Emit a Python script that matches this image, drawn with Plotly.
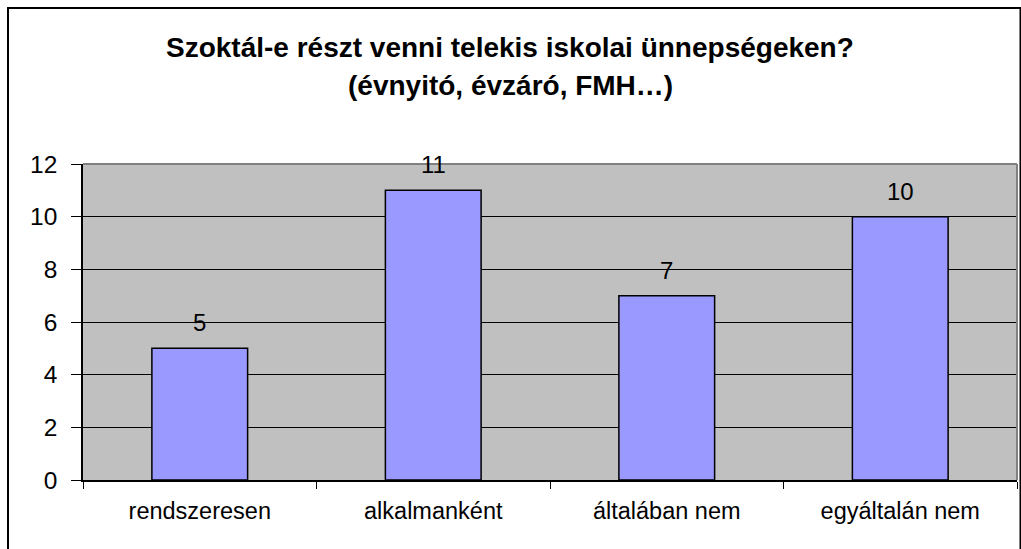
import plotly.graph_objects as go

categories = ["rendszeresen", "alkalmanként", "általában nem", "egyáltalán nem"]
values = [5, 11, 7, 10]
y_ticks = [0, 2, 4, 6, 8, 10, 12]
title_lines = ["Szoktál-e részt venni telekis iskolai ünnepségeken?", "(évnyitó, évzáró, FMH…)"]

FONT = "Liberation Sans, Arial, sans-serif"
W, H = 1021, 549
ML, MR, MT, MB = 83, 4, 164, 69

fig = go.Figure()
fig.add_trace(go.Bar(
    x=categories, y=values,
    marker=dict(color="#9999FF", line=dict(color="#000000", width=1.5)),
    showlegend=False, hoverinfo="skip",
))

for c, v in zip(categories, values):
    fig.add_annotation(x=c, y=v, text=str(v), showarrow=False,
                       yanchor="bottom", yshift=10,
                       font=dict(family=FONT, size=24, color="#000000"))

px_w, px_h = W - ML - MR, H - MT - MB
def px_x(x):
    return (x - ML) / px_w
def px_y(y):
    return (H - MB - y) / px_h

# title lines
for line, yc in zip(title_lines, [47, 85]):
    fig.add_annotation(xref="paper", yref="paper", x=px_x(510), y=px_y(yc),
                       xanchor="center", yanchor="middle", showarrow=False,
                       text="<b>" + line + "</b>",
                       font=dict(family=FONT, size=28, color="#000000"))

fig.update_layout(
    width=W, height=H,
    margin=dict(l=ML, r=MR, t=MT, b=MB),
    paper_bgcolor="#FFFFFF", plot_bgcolor="#C0C0C0",
    bargap=0.59,
    font=dict(family=FONT, size=24, color="#000000"),
    xaxis=dict(type="category", showline=True, linecolor="#000000", linewidth=1.5,
               ticks="outside", tickson="boundaries", ticklen=7, tickcolor="#000000",
               tickwidth=1, showgrid=False, ticklabelstandoff=9,
               tickfont=dict(family=FONT, size=23.5, color="#000000")),
    yaxis=dict(range=[0, 12], tickvals=y_ticks, showline=True, linecolor="#000000",
               linewidth=1.5, ticks="outside", ticklen=10, tickcolor="#000000",
               showgrid=True, gridcolor="#000000", gridwidth=1, zeroline=False,
               ticklabelstandoff=9,
               tickfont=dict(family=FONT, size=24.5, color="#000000")),
)

# plot-area border on top and right (gray)
fig.add_shape(type="line", xref="paper", yref="paper", x0=0, x1=1, y0=1, y1=1,
              line=dict(color="#808080", width=2), layer="above")
fig.add_shape(type="line", xref="paper", yref="paper", x0=1, x1=1, y0=0, y1=1,
              line=dict(color="#808080", width=2), layer="above")

# outer chart border (left and top visible)
fig.add_shape(type="rect", xref="paper", yref="paper",
              x0=px_x(8), x1=px_x(1020.5), y0=px_y(570), y1=px_y(8),
              line=dict(color="#000000", width=2), fillcolor="rgba(0,0,0,0)", layer="above")

fig.write_html("out.html", config={"displayModeBar": False},
               post_script="document.body.style.margin='0';")
